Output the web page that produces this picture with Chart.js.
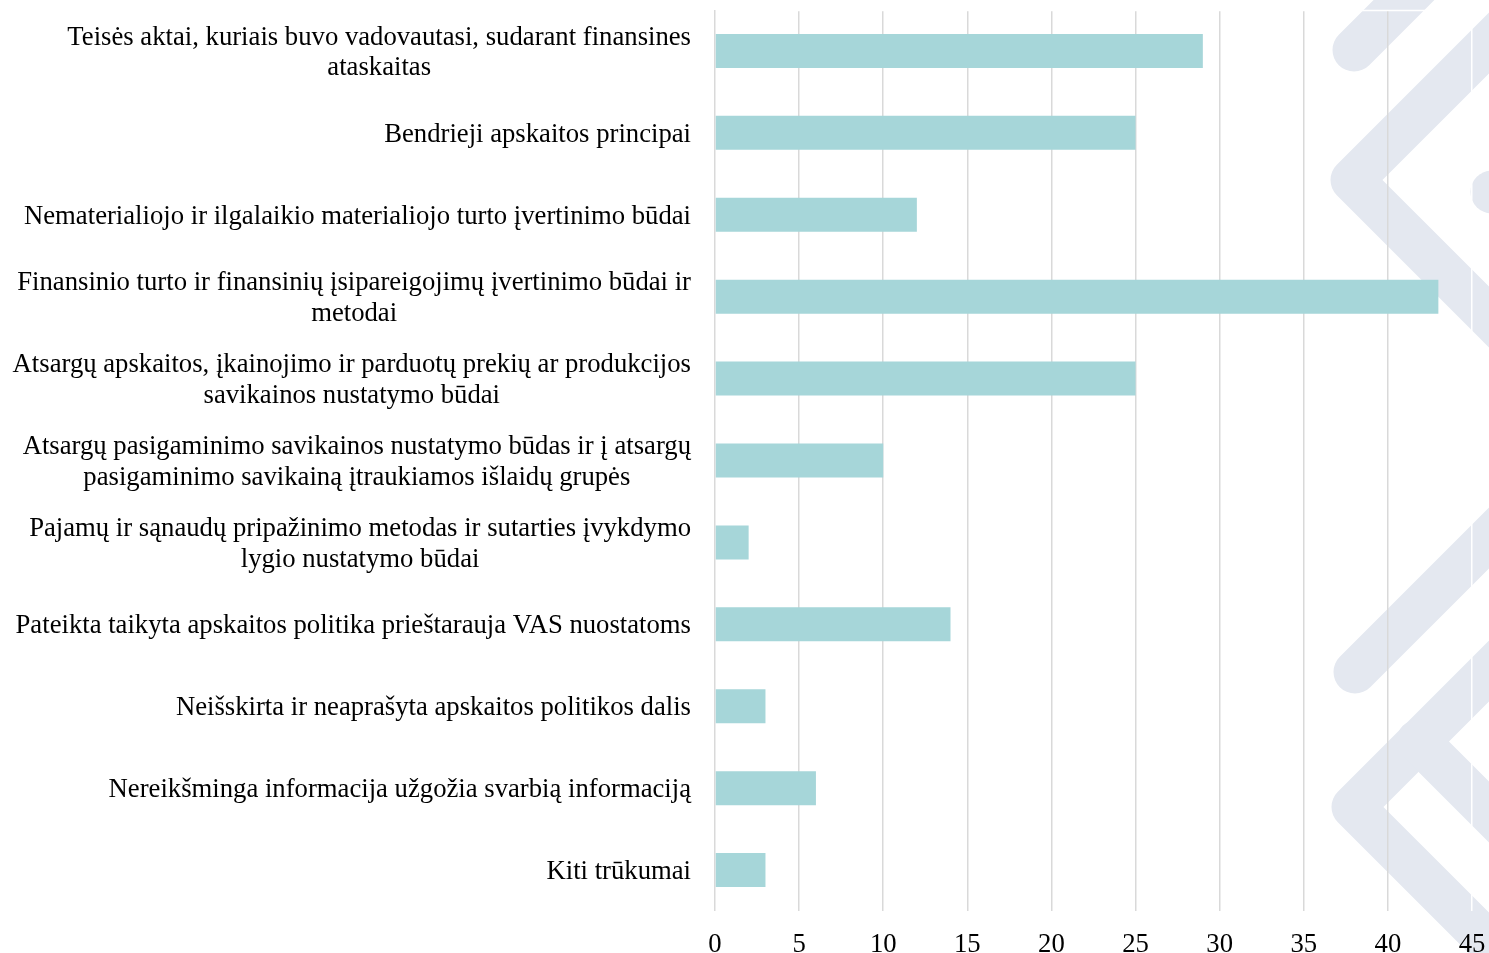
<!DOCTYPE html>
<html>
<head>
<meta charset="utf-8">
<script src="https://cdn.jsdelivr.net/npm/chart.js@4/dist/chart.umd.min.js"></script>
<style>
  body { margin: 0; background: #fff; }
  canvas { display: block; }
</style>
</head>
<body>
<canvas id="chart" width="1489" height="953"></canvas>
<script>
// categories (top to bottom), multi-line ones as arrays
const categories = [
    ['Teisės aktai, kuriais buvo vadovautasi, sudarant finansines', 'ataskaitas'],
    'Bendrieji apskaitos principai',
    'Nematerialiojo ir ilgalaikio materialiojo turto įvertinimo būdai',
    ['Finansinio turto ir finansinių įsipareigojimų įvertinimo būdai ir', 'metodai'],
    ['Atsargų apskaitos, įkainojimo ir parduotų prekių ar produkcijos', 'savikainos nustatymo būdai'],
    ['Atsargų pasigaminimo savikainos nustatymo būdas ir į atsargų', 'pasigaminimo savikainą įtraukiamos išlaidų grupės'],
    ['Pajamų ir sąnaudų pripažinimo metodas ir sutarties įvykdymo', 'lygio nustatymo būdai'],
    'Pateikta taikyta apskaitos politika prieštarauja VAS nuostatoms',
    'Neišskirta ir neaprašyta apskaitos politikos dalis',
    'Nereikšminga informacija užgožia svarbią informaciją',
    'Kiti trūkumai'
];
const values = [29, 25, 12, 43, 25, 10, 2, 14, 3, 6, 3];
const xMin = 0;
const xMax = 45;
const xStep = 5;

const FONT = '"Liberation Serif", "Times New Roman", serif';
const FONT_SIZE = 26.7;

// faint logo in the background on the right
const watermark = {
    id: 'watermark',
    beforeDraw(chart) {
        const ctx = chart.ctx;
        ctx.save();
        ctx.strokeStyle = '#e4e8f0';
        ctx.lineWidth = 43;
        ctx.lineCap = 'round';
        ctx.lineJoin = 'round';
        const strokes = [
            [[1354, 50], [1470, -66]],
            [[1510, 22], [1352, 180], [1510, 338]],
            [[1492, 192], [1600, 192]],
            [[1355, 672], [1560, 467]],
            [[1540, 620], [1353, 807], [1540, 994]],
            [[1418, 741], [1640, 963]]
        ];
        strokes.forEach(pts => {
            ctx.beginPath();
            ctx.moveTo(pts[0][0], pts[0][1]);
            for (let i = 1; i < pts.length; i++) ctx.lineTo(pts[i][0], pts[i][1]);
            ctx.stroke();
        });
        ctx.restore();
    },
    beforeDatasetsDraw(chart) {
        const ctx = chart.ctx;
        const a = chart.chartArea;
        ctx.save();
        ctx.strokeStyle = '#ffffff';
        ctx.lineWidth = 1.5;
        ctx.beginPath();
        ctx.moveTo(a.left + 2, a.top + 0.5);
        ctx.lineTo(a.right, a.top + 0.5);
        ctx.stroke();
        ctx.restore();
    }
};

// category labels: block right-aligned, lines centred within the block
const categoryLabels = {
    id: 'categoryLabels',
    afterDraw(chart) {
        const ctx = chart.ctx;
        const yScale = chart.scales.y;
        const rightEdge = chart.chartArea.left - 24;
        const lineHeight = 30.5;
        ctx.save();
        ctx.font = FONT_SIZE + 'px ' + FONT;
        ctx.fillStyle = '#000';
        ctx.textBaseline = 'middle';
        ctx.textAlign = 'center';
        chart.data.labels.forEach((label, i) => {
            const lines = Array.isArray(label) ? label : [label];
            const w = Math.max(...lines.map(l => ctx.measureText(l).width));
            const cx = rightEdge - w / 2;
            const cy = yScale.getPixelForValue(i) + 2;
            lines.forEach((line, j) => {
                ctx.fillText(line, cx, cy + (j - (lines.length - 1) / 2) * lineHeight);
            });
        });
        ctx.restore();
    }
};

const ctx = document.getElementById('chart').getContext('2d');
const chart = new Chart(ctx, {
    type: 'bar',
    data: {
        labels: categories,
        datasets: [{
            data: values,
            backgroundColor: '#a6d6d9',
            borderWidth: 0,
            categoryPercentage: 1,
            barPercentage: 0.415
        }]
    },
    options: {
        indexAxis: 'y',
        responsive: false,
        animation: false,
        layout: { padding: { top: 10, right: 17, left: 0, bottom: 0 } },
        plugins: {
            legend: { display: false },
            tooltip: { enabled: false }
        },
        scales: {
            y: {
                ticks: { display: false },
                grid: { display: false },
                border: { display: false },
                afterFit: scale => { scale.width = 715; }
            },
            x: {
                min: xMin,
                max: xMax,
                ticks: {
                    stepSize: xStep,
                    color: '#000',
                    padding: 18,
                    font: { family: FONT, size: FONT_SIZE }
                },
                grid: {
                    drawTicks: false,
                    lineWidth: 1.5,
                    color: c => (c.tick && c.tick.value === xMax) ? '#ffffff' : '#d9d9d9'
                },
                border: { display: false },
                afterFit: scale => {
                    scale.height = 42;
                    scale.paddingLeft = 0;
                    scale.paddingRight = 0;
                }
            }
        }
    },
    plugins: [watermark, categoryLabels]
});
</script>
</body>
</html>
